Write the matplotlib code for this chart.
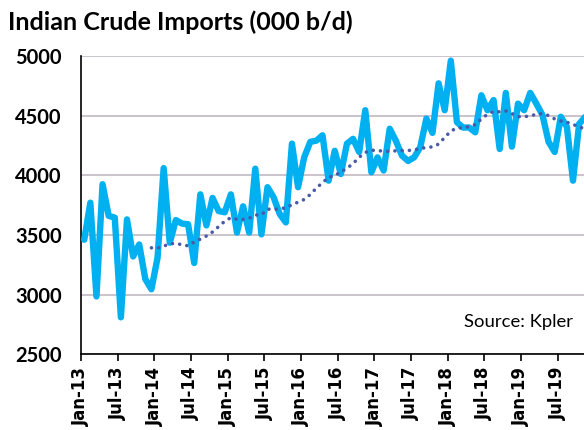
import matplotlib
matplotlib.use('Agg')
import matplotlib.pyplot as plt
import numpy as np

# monthly Indian crude imports, Jan-13 onwards (000 b/d)
imports = [3460, 3770, 2985, 3925, 3660, 3645, 2810, 3630, 3320, 3420, 3130, 3045,
           3310, 4060, 3435, 3625, 3595, 3590, 3265, 3840, 3580, 3810, 3700, 3690,
           3840, 3520, 3740, 3520, 4055, 3505, 3900, 3815, 3675, 3605, 4265, 3900,
           4150, 4280, 4290, 4335, 3955, 4205, 4010, 4265, 4305, 4195, 4545, 4025,
           4150, 4040, 4390, 4290, 4165, 4120, 4150, 4235, 4475, 4355, 4770, 4545,
           4960, 4445, 4400, 4400, 4360, 4670, 4545, 4630, 4220, 4690, 4240, 4600,
           4545, 4690, 4600, 4505, 4280, 4195, 4490, 4405, 3955, 4430, 4490]

# 12-month moving average, first value at Dec-13
trend_start = 11
trend = [3392, 3390, 3406, 3426, 3429, 3418, 3409, 3440, 3465, 3491, 3525, 3570,
         3615, 3645, 3630, 3630, 3640, 3667, 3668, 3716, 3716, 3716, 3730, 3752,
         3775, 3797, 3839, 3893, 3938, 3983, 3997, 4028, 4058, 4098, 4151, 4191,
         4210, 4207, 4202, 4199, 4205, 4207, 4207, 4213, 4224, 4233, 4238, 4261,
         4317, 4370, 4396, 4399, 4407, 4424, 4472, 4511, 4536, 4531, 4539, 4517,
         4491, 4491, 4497, 4511, 4517, 4500, 4472, 4455, 4444, 4427, 4404, 4390]

tick_labels = ['Jan-13', 'Jul-13', 'Jan-14', 'Jul-14', 'Jan-15', 'Jul-15', 'Jan-16',
               'Jul-16', 'Jan-17', 'Jul-17', 'Jan-18', 'Jul-18', 'Jan-19', 'Jul-19']

plt.rcParams['font.family'] = ['Lato', 'DejaVu Sans']

x = np.arange(len(imports)) + 0.5
x_trend = np.arange(trend_start, trend_start + len(trend)) + 0.5

fig = plt.figure(figsize=(5.84, 4.30), dpi=100)
ax = fig.add_axes([0.139, 0.176, 0.861, 0.694])

ax.plot(x, imports, color='#00B0F0', lw=4.6, solid_joinstyle='round',
        solid_capstyle='round', zorder=3)
ax.plot(x_trend, trend, color='#4A5AA8', lw=2.6, linestyle=(0, (0.01, 2.0)),
        dash_capstyle='round', zorder=4)

ax.set_ylim(2500, 5000)
ax.set_yticks(range(2500, 5001, 500))
ax.set_xlim(0, 82.3)
ax.set_xticks(np.arange(len(tick_labels)) * 6)
ax.set_xticklabels(tick_labels, rotation=90, fontsize=12, fontweight='bold',
                   family='DejaVu Sans')
for lab in ax.get_yticklabels():
    lab.set_fontsize(14.5)
    lab.set_fontweight('bold')

ax.grid(axis='y', color='#C9C3CB', lw=1.4, zorder=0)
ax.set_axisbelow(True)
for s in ['top', 'right']:
    ax.spines[s].set_visible(False)
ax.spines['left'].set_color('black')
ax.spines['left'].set_linewidth(1.2)
ax.spines['bottom'].set_color('black')
ax.spines['bottom'].set_linewidth(1.2)
ax.tick_params(axis='y', length=0, pad=14)
ax.tick_params(axis='x', direction='out', length=5, width=1.2, pad=4)

fig.text(0.014, 0.949, 'Indian Crude Imports (000 b/d)', fontsize=18,
         fontweight='bold', va='center', ha='left')
fig.text(0.981, 0.251, 'Source: Kpler', fontsize=13.3, va='center', ha='right')

fig.savefig('out.png', dpi=100)
